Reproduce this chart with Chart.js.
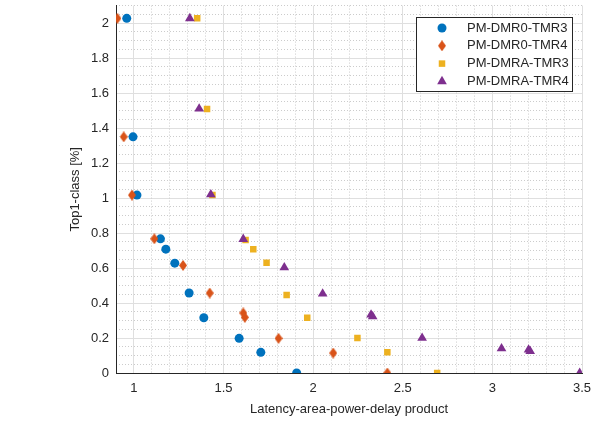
<!DOCTYPE html>
<html>
<head>
<meta charset="utf-8">
<script src="https://cdn.jsdelivr.net/npm/chart.js@4/dist/chart.umd.min.js"></script>
<style>
  html, body { margin: 0; padding: 0; background: #fff; }
  #wrap { width: 601px; height: 423px; }
</style>
</head>
<body>
<div id="wrap"><canvas id="chart" width="601" height="423"></canvas></div>
<script>
const seriesNames = ["PM-DMR0-TMR3", "PM-DMR0-TMR4", "PM-DMRA-TMR3", "PM-DMRA-TMR4"];

// values
const dmr0Tmr3X = [0.96, 0.995, 1.017, 1.148, 1.178, 1.228, 1.308, 1.39, 1.587, 1.708, 1.908];
const dmr0Tmr3Y = [2.027, 1.35, 1.017, 0.767, 0.708, 0.628, 0.457, 0.316, 0.198, 0.118, 0];

const dmr0Tmr4X = [0.908, 0.943, 0.989, 1.114, 1.274, 1.423, 1.61, 1.619, 1.807, 2.112, 2.414];
const dmr0Tmr4Y = [2.027, 1.35, 1.017, 0.767, 0.615, 0.457, 0.343, 0.318, 0.198, 0.114, 0];

const dmraTmr3X = [1.353, 1.408, 1.438, 1.623, 1.666, 1.74, 1.852, 1.967, 2.247, 2.414, 2.692];
const dmraTmr3Y = [2.027, 1.509, 1.017, 0.76, 0.708, 0.63, 0.446, 0.316, 0.2, 0.118, 0];

const dmraTmr4X = [1.312, 1.364, 1.429, 1.61, 1.839, 2.053, 2.323, 2.332, 2.608, 3.051, 3.202, 3.211, 3.487];
const dmraTmr4Y = [2.027, 1.51, 1.02, 0.765, 0.603, 0.453, 0.333, 0.323, 0.2, 0.14, 0.133, 0.124, 0];

const xTicks = [1, 1.5, 2, 2.5, 3, 3.5];
const yTicks = [0, 0.2, 0.4, 0.6, 0.8, 1, 1.2, 1.4, 1.6, 1.8, 2];
const xRange = [0.9, 3.5];
const yRange = [0, 2.1];

const colors = ["#0072BD", "#D95319", "#EDB120", "#7E2F8E"];
const textColor = "#262626";
const fontFamily = "'Liberation Sans', Arial, Helvetica, sans-serif";

// minor grid positions
const xMinor = [];
for (let i = 9; i <= 35; i++) if (i % 5 !== 0) xMinor.push(i / 10);
const yMinor = [];
for (let i = 1; i <= 42; i++) if (i % 4 !== 0) yMinor.push(i / 20);

function zip(xs, ys) {
  return xs.map((x, i) => ({ x: x, y: ys[i] }));
}

// taller-than-wide diamond like matlab's 'd'
function diamondMarker(color) {
  const c = document.createElement("canvas");
  c.width = 8; c.height = 11;
  const g = c.getContext("2d");
  g.fillStyle = color;
  g.beginPath();
  g.moveTo(4, 0); g.lineTo(8, 5.5); g.lineTo(4, 11); g.lineTo(0, 5.5);
  g.closePath();
  g.fill();
  return c;
}

const markers = [
  { pointStyle: "circle", radius: 4.5 },
  { pointStyle: diamondMarker(colors[1]), radius: 5 },
  { pointStyle: "rect", radius: 4.6 },
  { pointStyle: "triangle", radius: 5.6 }
];

const seriesData = [
  zip(dmr0Tmr3X, dmr0Tmr3Y),
  zip(dmr0Tmr4X, dmr0Tmr4Y),
  zip(dmraTmr3X, dmraTmr3Y),
  zip(dmraTmr4X, dmraTmr4Y)
];

const datasets = seriesData.map((d, i) => ({
  label: seriesNames[i],
  data: d,
  showLine: false,
  pointStyle: markers[i].pointStyle,
  pointRadius: markers[i].radius,
  pointBackgroundColor: colors[i],
  pointBorderColor: colors[i],
  pointBorderWidth: 0,
  order: 4 - i
}));

// legend box drawn inside the axes, top right
const boxLegend = {
  id: "boxLegend",
  afterDraw(chart) {
    const ctx = chart.ctx;
    const area = chart.chartArea;
    const w = 156, h = 74;
    const x0 = Math.round(area.right - 10.5 - w) + 0.5;
    const y0 = Math.round(area.top + 11) + 0.5;
    ctx.save();
    ctx.fillStyle = "#fff";
    ctx.fillRect(x0, y0, w, h);
    ctx.strokeStyle = textColor;
    ctx.lineWidth = 1;
    ctx.strokeRect(x0, y0, w, h);
    ctx.font = "13px " + fontFamily;
    ctx.textBaseline = "middle";
    ctx.textAlign = "left";
    seriesNames.forEach((name, i) => {
      const ry = y0 + 10.5 + i * 17.8;
      ctx.fillStyle = colors[i];
      ctx.strokeStyle = colors[i];
      Chart.helpers.drawPoint(ctx, {
        pointStyle: markers[i].pointStyle,
        radius: markers[i].radius,
        borderWidth: 0,
        rotation: 0
      }, x0 + 25.5, ry);
      ctx.fillStyle = textColor;
      ctx.fillText(name, x0 + 50.5, ry);
    });
    ctx.restore();
  }
};

const tickLabel = (v) => String(+Number(v).toFixed(2));

const noPad = (s) => { s.paddingTop = 0; s.paddingBottom = 0; s.paddingLeft = 0; s.paddingRight = 0; };

new Chart(document.getElementById("chart"), {
  type: "scatter",
  data: { datasets: datasets },
  plugins: [boxLegend],
  options: {
    responsive: false,
    animation: false,
    layout: { padding: { top: 5, right: 19, left: 0, bottom: 0 } },
    plugins: {
      legend: { display: false },
      tooltip: { enabled: false }
    },
    scales: {
      x: {
        type: "linear",
        min: xRange[0],
        max: xRange[1],
        afterBuildTicks: (s) => { s.ticks = xTicks.map(v => ({ value: v })); },
        afterFit: (s) => { s.height = 50; noPad(s); },
        ticks: {
          autoSkip: false,
          maxRotation: 0,
          padding: 8,
          color: textColor,
          font: { family: fontFamily, size: 13 },
          callback: tickLabel
        },
        grid: { color: "#dfdfdf", drawTicks: false },
        border: { display: true, color: textColor, width: 1 },
        title: {
          display: true,
          text: "Latency-area-power-delay product",
          color: textColor,
          font: { family: fontFamily, size: 13 },
          padding: { top: 0, bottom: 6 }
        }
      },
      y: {
        type: "linear",
        min: yRange[0],
        max: yRange[1],
        afterBuildTicks: (s) => { s.ticks = yTicks.map(v => ({ value: v })); },
        afterFit: (s) => { s.width = 116; noPad(s); },
        ticks: {
          autoSkip: false,
          padding: 7,
          color: textColor,
          font: { family: fontFamily, size: 13 },
          callback: tickLabel
        },
        grid: { color: "#dfdfdf", drawTicks: false },
        border: { display: true, color: textColor, width: 1 },
        title: {
          display: true,
          text: "Top1-class [%]",
          color: textColor,
          font: { family: fontFamily, size: 13 },
          padding: { top: 68, bottom: 0 }
        }
      },
      xMinor: {
        type: "linear",
        position: "bottom",
        min: xRange[0],
        max: xRange[1],
        afterBuildTicks: (s) => { s.ticks = xMinor.map(v => ({ value: v })); },
        afterFit: (s) => { s.height = 0; noPad(s); },
        ticks: { display: false, autoSkip: false },
        grid: { color: "#cccccc", drawTicks: false },
        border: { display: false, dash: [1, 2] }
      },
      yMinor: {
        type: "linear",
        position: "left",
        min: yRange[0],
        max: yRange[1],
        afterBuildTicks: (s) => { s.ticks = yMinor.map(v => ({ value: v })); },
        afterFit: (s) => { s.width = 0; noPad(s); },
        ticks: { display: false, autoSkip: false },
        grid: { color: "#cccccc", drawTicks: false },
        border: { display: false, dash: [1, 2] }
      }
    }
  }
});
</script>
</body>
</html>
